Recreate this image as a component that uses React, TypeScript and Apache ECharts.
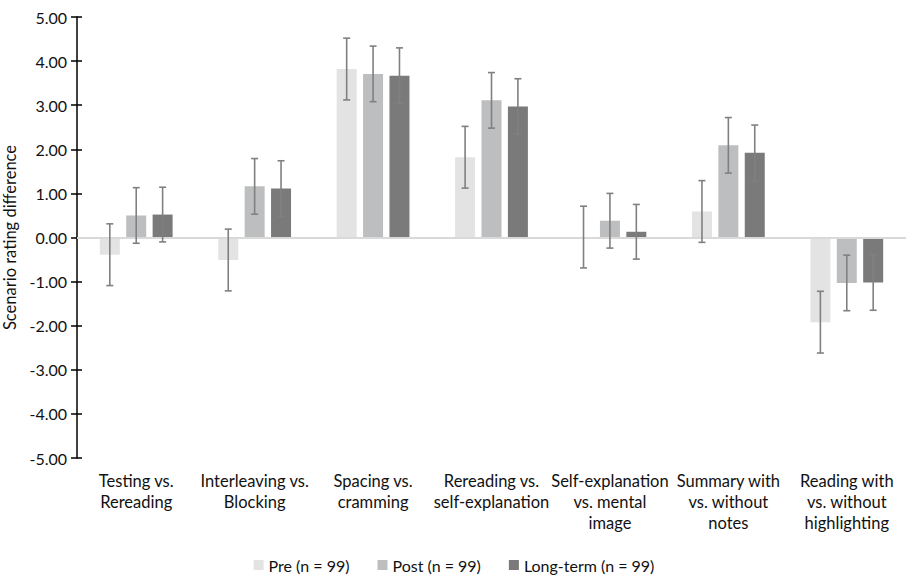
import React, { useEffect, useRef } from "react";
import * as echarts from "echarts";

const categories = [
  "Testing vs.\nRereading",
  "Interleaving vs.\nBlocking",
  "Spacing vs.\ncramming",
  "Rereading vs.\nself-explanation",
  "Self-explanation\nvs. mental\nimage",
  "Summary with\nvs. without\nnotes",
  "Reading with\nvs. without\nhighlighting",
];
const seriesNames = ["Pre (n = 99)", "Post (n = 99)", "Long-term (n = 99)"];
const preValues = [-0.39, -0.51, 3.82, 1.82, 0.01, 0.59, -1.92];
const postValues = [0.5, 1.16, 3.71, 3.11, 0.38, 2.09, -1.03];
const longValues = [0.52, 1.11, 3.67, 2.97, 0.13, 1.92, -1.02];
const preErr = [0.7, 0.7, 0.7, 0.7, 0.7, 0.7, 0.7];
const postErr = [0.63, 0.63, 0.63, 0.63, 0.62, 0.63, 0.63];
const longErr = [0.62, 0.63, 0.63, 0.63, 0.62, 0.63, 0.63];
const colors = ["#e3e3e3", "#bdbebf", "#7a7a7a"];

const FONT = "Lato";
const TEXT = "#111";
const BAR_W = 20;
const BAR_GAP = 0.32;

export default function App() {
  const ref = useRef<HTMLDivElement>(null);
  useEffect(() => {
    document.body.style.margin = "0";
    if (!ref.current) return;
    const chart = echarts.init(ref.current, null, { renderer: "svg" });
    const values = [preValues, postValues, longValues];
    const errs = [preErr, postErr, longErr];

    const barSeries = values.map((vals, si) => ({
      name: seriesNames[si],
      type: "bar",
      data: vals,
      barWidth: BAR_W,
      barGap: BAR_GAP * 100 + "%",
      itemStyle: { color: colors[si] },
      z: 2,
      ...(si === 0
        ? {
            markLine: {
              silent: true,
              symbol: "none",
              label: { show: false },
              lineStyle: { color: "#d9d9d9", width: 2, type: "solid" },
              data: [{ yAxis: 0 }],
            },
          }
        : {}),
    }));

    const errSeries = values.map((vals, si) => ({
      name: seriesNames[si] + " err",
      type: "custom",
      z: 5,
      encode: { x: 0, y: 1 },
      data: vals.map((v, i) => [i, v, errs[si][i]]),
      renderItem: (params: any, api: any) => {
        const x = api.value(0);
        const v = api.value(1);
        const e = api.value(2);
        const hi = api.coord([x, v + e]);
        const lo = api.coord([x, v - e]);
        const off = (si - 1) * BAR_W * (1 + BAR_GAP);
        const cx = hi[0] + off;
        const cap = 3.5;
        const style = { stroke: "#808080", lineWidth: 1.6 };
        return {
          type: "group",
          children: [
            { type: "line", shape: { x1: cx, y1: hi[1], x2: cx, y2: lo[1] }, style },
            { type: "line", shape: { x1: cx - cap, y1: hi[1], x2: cx + cap, y2: hi[1] }, style },
            { type: "line", shape: { x1: cx - cap, y1: lo[1], x2: cx + cap, y2: lo[1] }, style },
          ],
        };
      },
    }));

    chart.setOption({
      animation: false,
      textStyle: { fontFamily: FONT },
      grid: {
        left: 77,
        right: 2,
        top: 17,
        height: 441,
        containLabel: false,
        outerBoundsMode: "none",
      },
      legend: {
        data: seriesNames,
        top: 557,
        left: "center",
        padding: 0,
        itemWidth: 10,
        itemHeight: 10,
        itemGap: 28,
        icon: "rect",
        textStyle: { fontFamily: FONT, fontSize: 16, color: TEXT },
      },
      xAxis: {
        type: "category",
        data: categories,
        axisLine: { show: false },
        axisTick: { show: false },
        axisLabel: {
          interval: 0,
          margin: 12,
          fontFamily: FONT,
          fontSize: 16.5,
          lineHeight: 21,
          color: TEXT,
        },
      },
      yAxis: [
        {
          type: "value",
          min: -5,
          max: 5,
          interval: 1,
          name: "Scenario rating difference",
          nameLocation: "middle",
          nameRotate: 90,
          nameGap: 48,
          nameTextStyle: { fontFamily: FONT, fontSize: 16.5, color: TEXT },
          axisLine: { show: true, lineStyle: { color: "#000", width: 1.5 } },
          axisTick: { show: true, length: 6, lineStyle: { color: "#000", width: 1.5 } },
          splitLine: { show: false },
          axisLabel: {
            margin: 10,
            fontFamily: FONT,
            fontSize: 16,
            color: TEXT,
            formatter: (v: number) => v.toFixed(2),
          },
        },
        {
          type: "value",
          min: -5,
          max: 5,
          interval: 1,
          position: "left",
          offset: 0,
          axisLine: { show: false },
          axisTick: { show: true, inside: true, length: 5, lineStyle: { color: "#000", width: 1.5 } },
          splitLine: { show: false },
          axisLabel: { show: false },
        },
      ],
      series: [...barSeries, ...errSeries],
    });
    return () => chart.dispose();
  }, []);
  return <div ref={ref} style={{ width: 908, height: 575 }} />;
}
